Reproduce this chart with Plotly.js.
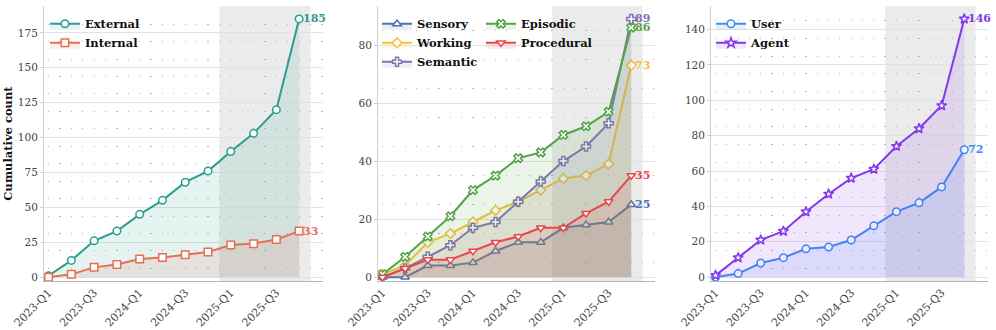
<!DOCTYPE html>
<html>
<head>
<meta charset="utf-8">
<script src="https://cdn.plot.ly/plotly-3.0.1.min.js"></script>
<style>
  html, body { margin: 0; padding: 0; background: #fff; }
  #chart { width: 996px; height: 330px; }
</style>
</head>
<body>
<div id="chart"></div>
<script>
// quarters on the x axis
const quarters = ['2023-Q1', '2023-Q2', '2023-Q3', '2023-Q4', '2024-Q1', '2024-Q2',
                  '2024-Q3', '2024-Q4', '2025-Q1', '2025-Q2', '2025-Q3', '2025-Q4'];
const tickQuarters = quarters.filter((q, i) => i % 2 === 0);

// panel 1: source
const external = [1, 12, 26, 33, 45, 55, 68, 76, 90, 103, 120, 185];
const internal = [0, 2, 7, 9, 13, 14, 16, 18, 23, 24, 27, 33];

// panel 2: memory type
const sensory = [0, 0, 4, 4, 5, 9, 12, 12, 17, 18, 19, 25];
const working = [1, 4, 12, 15, 19, 23, 26, 30, 34, 35, 39, 73];
const semantic = [0, 3, 7, 11, 17, 19, 26, 33, 40, 45, 53, 89];
const episodic = [1, 7, 14, 21, 30, 35, 41, 43, 49, 52, 57, 86];
const procedural = [0, 3, 6, 6, 9, 12, 14, 17, 17, 22, 26, 35];

// panel 3: who writes
const user = [0, 2, 8, 11, 16, 17, 21, 29, 37, 42, 51, 72];
const agent = [1, 11, 21, 26, 37, 47, 56, 61, 74, 84, 97, 146];

// shaded recent period (between quarter positions)
const shadeFrom = 7.5, shadeTo = 11.5;

const FONT = 'DejaVu Serif';
const W = 996, H = 330;
const margin = { l: 44, r: 8, t: 6, b: 49 };
const plotW = W - margin.l - margin.r;
const domains = [[0, 0.2956], [0.3538, 0.6472], [0.7066, 1]];
const xRange = [-0.2, 12.05];

function rgba(hex, a) {
    const n = parseInt(hex.slice(1), 16);
    return `rgba(${n >> 16},${(n >> 8) & 255},${n & 255},${a})`;
}

const traces = [];
const annotations = [];

function addSeries(name, ys, color, symbol, panel, legend) {
    const sfx = panel === 1 ? '' : panel;
    traces.push({
        x: quarters, y: ys, name: name,
        type: 'scatter', mode: 'lines+markers',
        xaxis: 'x' + sfx, yaxis: 'y' + sfx,
        legend: legend,
        line: { color: color, width: 2 },
        marker: { symbol: symbol, size: 7.5, color: '#fff', line: { color: color, width: 1.5 } },
        fill: 'tozeroy', fillcolor: rgba(color, 0.12)
    });
    annotations.push({
        xref: 'x' + sfx, yref: 'y' + sfx,
        x: quarters[quarters.length - 1], y: ys[ys.length - 1],
        text: String(ys[ys.length - 1]),
        xanchor: 'left', xshift: 2, showarrow: false,
        font: { family: FONT, size: 11, color: color, weight: 'bold' }
    });
}

addSeries('External', external, '#2a9d8f', 'circle', 1, 'legend');
addSeries('Internal', internal, '#e76f51', 'square', 1, 'legend');

addSeries('Sensory', sensory, '#4c72b0', 'triangle-up', 2, 'legend2');
addSeries('Working', working, '#f4c142', 'diamond', 2, 'legend2');
addSeries('Semantic', semantic, '#8172b2', 'cross', 2, 'legend2');
addSeries('Episodic', episodic, '#55a349', 'x', 2, 'legend3');
addSeries('Procedural', procedural, '#e5484d', 'triangle-down', 2, 'legend3');

addSeries('User', user, '#3a8df5', 'circle', 3, 'legend4');
addSeries('Agent', agent, '#8338ec', 'star', 3, 'legend4');

// dotted grid: horizontal minor lines with dots every half quarter
function dotDash(dom) {
    const px = (dom[1] - dom[0]) * plotW / (xRange[1] - xRange[0]);
    const period = px / 2;
    let off = ((0 - xRange[0]) * px) % period;
    const d = 1.2;
    const a = Math.max(off - d / 2, 0);
    return `0px,${a.toFixed(2)}px,${d}px,${(period - a - d).toFixed(2)}px`;
}

function xAxis(i) {
    return {
        domain: domains[i], type: 'category', range: xRange,
        tickvals: tickQuarters, tickangle: -45,
        tickfont: { family: FONT, size: 11, color: '#444' },
        showgrid: false, zeroline: false,
        showline: true, linecolor: '#b5b5b5', linewidth: 1,
        ticks: '', anchor: i === 0 ? 'y' : 'y' + (i + 1)
    };
}

function yAxis(i, max, dtick) {
    return {
        domain: [0, 1], range: [-0.015 * max, 1.05 * max],
        dtick: dtick, tick0: 0,
        tickfont: { family: FONT, size: 10.5, color: '#444' },
        showgrid: true, gridcolor: '#e3e3e3', gridwidth: 1,
        zeroline: false, showline: true, linecolor: '#cfcfcf', linewidth: 1,
        ticks: 'outside', ticklen: 3, tickcolor: '#cfcfcf',
        minor: { tick0: dtick / 4, dtick: dtick / 2, showgrid: true,
                 gridcolor: '#b8b8b8', gridwidth: 1, griddash: dotDash(domains[i]) },
        anchor: i === 0 ? 'x' : 'x' + (i + 1)
    };
}

const shapes = [1, 2, 3].map(p => ({
    type: 'rect', layer: 'below',
    xref: p === 1 ? 'x' : 'x' + p, yref: (p === 1 ? 'y' : 'y' + p) + ' domain',
    x0: shadeFrom, x1: shadeTo, y0: 0, y1: 1,
    fillcolor: 'rgba(0,0,0,0.08)', line: { width: 0 }
}));

function legendAt(x) {
    return {
        x: x, y: 0.988, xanchor: 'left', yanchor: 'top',
        bgcolor: 'rgba(0,0,0,0)', borderwidth: 0,
        font: { family: FONT, size: 11.5, color: '#111', weight: 'bold' },
        itemwidth: 30, tracegroupgap: 0
    };
}

const layout = {
    width: W, height: H, margin: margin,
    paper_bgcolor: '#fff', plot_bgcolor: '#fff',
    showlegend: true,
    xaxis: xAxis(0), xaxis2: xAxis(1), xaxis3: xAxis(2),
    yaxis: Object.assign(yAxis(0, 185, 25), {
        title: { text: 'Cumulative count', standoff: 2,
                 font: { family: FONT, size: 11.5, color: '#111', weight: 'bold' } }
    }),
    yaxis2: yAxis(1, 89, 20),
    yaxis3: yAxis(2, 146, 20),
    legend: legendAt(0.001),
    legend2: legendAt(0.3528),
    legend3: legendAt(0.4629),
    legend4: legendAt(0.7066),
    shapes: shapes,
    annotations: annotations
};

Plotly.newPlot('chart', traces, layout, { displayModeBar: false, staticPlot: true });
</script>
</body>
</html>
